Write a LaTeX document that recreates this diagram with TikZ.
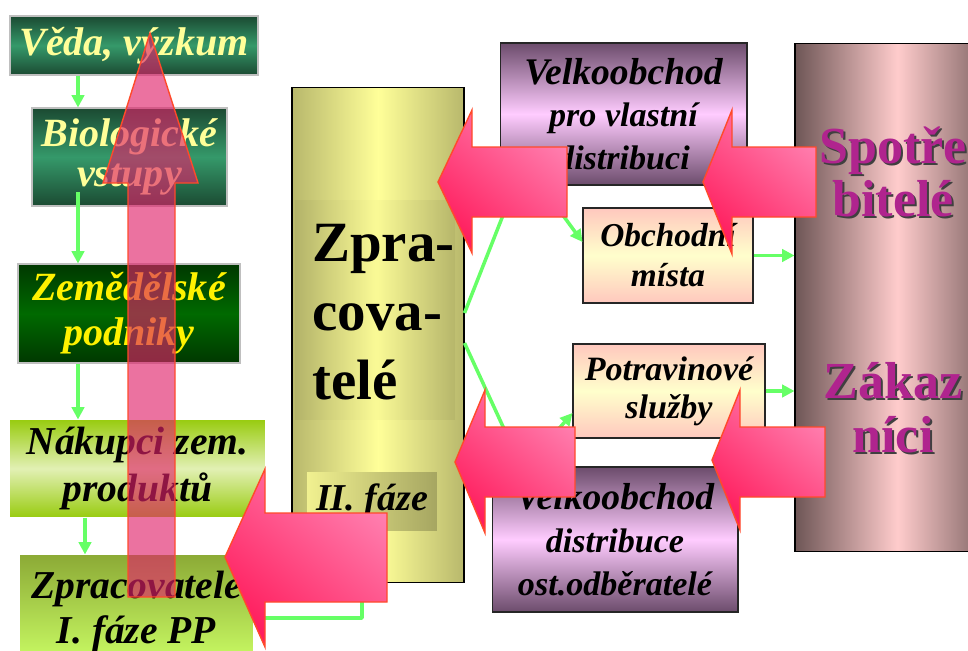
\documentclass[tikz,border=0pt]{standalone}
\usepackage{fontspec}
\setmainfont{Liberation Serif}
\usetikzlibrary{arrows.meta}

\definecolor{vedaDark}{HTML}{1B4A32}
\definecolor{vedaMid}{HTML}{35996A}
\definecolor{zemDark}{HTML}{003800}
\definecolor{zemMid}{HTML}{006A00}
\definecolor{nakEdge}{HTML}{99CC11}
\definecolor{nakMid}{HTML}{E2F0B4}
\definecolor{zprTop}{HTML}{8CAA36}
\definecolor{zprBot}{HTML}{CCFF66}
\definecolor{procEdge}{HTML}{B8B86C}
\definecolor{procMid}{HTML}{FFFF99}
\definecolor{vooEdge}{HTML}{6C4C6C}
\definecolor{vooMid}{HTML}{FFCCFF}
\definecolor{shopEdge}{HTML}{FFC8BE}
\definecolor{shopMid}{HTML}{FFFFCC}
\definecolor{consEdge}{HTML}{6E5656}
\definecolor{consMid}{HTML}{FFCCCC}
\definecolor{consText}{HTML}{B0248E}
\definecolor{paleYellow}{HTML}{FFFF99}
\definecolor{flowGreen}{HTML}{66FF66}
\definecolor{pinkDark}{HTML}{FF1E5E}
\definecolor{pinkLight}{HTML}{FF80B0}
\definecolor{pinkEdge}{HTML}{FF4A2A}
\definecolor{upPink}{HTML}{E0226A}

\begin{document}
\begin{tikzpicture}[x=0.02cm, y=-0.02cm,
  every node/.style={inner sep=0pt},
  fbi/.style 2 args={font=\bfseries\itshape\fontsize{#1}{#2}\selectfont},
  fb/.style 2 args={font=\bfseries\fontsize{#1}{#2}\selectfont},
  box/.style={draw=black!85, line width=0.6pt, align=center},
  greenbox/.style={box, draw=black!25, top color=vedaDark, bottom color=vedaDark,
    middle color=vedaMid, text=paleYellow},
  farmbox/.style={box, draw=black!25, top color=zemDark, bottom color=zemDark,
    middle color=zemMid, text=yellow},
  buyerbox/.style={box, draw=none, top color=nakEdge, bottom color=nakEdge, middle color=nakMid},
  firstbox/.style={box, draw=none, top color=zprTop, bottom color=zprBot},
  wholebox/.style={box, top color=vooEdge, bottom color=vooEdge, middle color=vooMid},
  shopbox/.style={box, top color=shopEdge, bottom color=shopEdge, middle color=shopMid},
  column/.style={draw=black, line width=0.6pt, left color=procEdge, right color=procEdge,
    middle color=procMid},
  conscolumn/.style={draw=black, line width=0.6pt, left color=consEdge, right color=consEdge,
    middle color=consMid},
  flowline/.style={draw=flowGreen, line width=2pt, line join=round},
  flow/.style={flowline, -{Triangle[length=7pt,width=7pt]}},
  bigarrow/.style={draw=pinkEdge, line width=0.8pt, line join=miter,
    top color=pinkLight, bottom color=pinkDark, shading angle=-40},
  uparrow/.style={draw=pinkEdge, line width=0.8pt, fill=upPink, fill opacity=0.64}
]
\useasboundingbox (0,0) rectangle (968,650);
\clip (0,0) rectangle (968,650);

% ---------- left chain of boxes ----------
\node[greenbox, fbi={22.8}{25}, minimum width=4.96cm, minimum height=1.18cm]
  (veda) at (134,45.5) {Věda, výzkum};
\node[greenbox, fbi={22.8}{23}, minimum width=3.9cm, minimum height=1.96cm]
  (bio) at (129.5,157) {Biologické\\vstupy};
\node[farmbox, fbi={22.8}{25.6}, minimum width=4.44cm, minimum height=1.98cm]
  (zem) at (129,313.5) {Zemědělské\\podniky};
\node[buyerbox, fbi={22.5}{26.7}, minimum width=5.1cm, minimum height=1.94cm]
  (nak) at (137.5,468.5) {Nákupci zem.\\produktů};
\node[firstbox, fbi={22.5}{25.6}, minimum width=4.66cm, minimum height=2.24cm]
  (zpr) at (136.5,611) {Zpracovatelé\\I. fáze PP};

% ---------- processors, second phase ----------
\node[column, minimum width=3.44cm, minimum height=9.92cm] (proc) at (378,335) {};
\node[draw=none, left color=procEdge!95!black, right color=procEdge!95!black,
  middle color=procMid!97!black, minimum width=3.2cm, minimum height=4.4cm,
  fill opacity=0.55] (procpanel) at (375,310) {};
\node[fb={32.4}{39.3}, align=left, anchor=west] (proctext) at (312,312) {Zpra-\\cova-\\telé};
\node[fbi={21.6}{24}, left color=procMid!80!procEdge, right color=procEdge!90!black,
  minimum width=2.6cm, minimum height=1.16cm] (phase) at (372,501) {II. fáze};

% ---------- wholesale and retail ----------
\node[wholebox, fbi={19.4}{24}, minimum width=4.94cm, minimum height=2.84cm] (vo1) at (623.5,114)
  {{\fontsize{21.4}{24}\selectfont Velkoobchod}\\pro vlastní\\distribuci};
\node[shopbox, fbi={19}{22.8}, minimum width=3.4cm, minimum height=1.9cm]
  (obch) at (668,255.5) {Obchodní\\místa};
\node[shopbox, fbi={19.4}{21.6}, minimum width=3.84cm, minimum height=1.88cm]
  (potr) at (669,391) {Potravinové\\služby};
\node[wholebox, fbi={19.4}{24.5}, minimum width=4.92cm, minimum height=2.9cm] (vo2) at (615,539.5)
  {{\fontsize{21.4}{24.5}\selectfont Velkoobchod}\\distribuce\\ost.odběratelé};

% ---------- consumers ----------
\node[conscolumn, minimum width=4.1cm, minimum height=10.18cm] (cons) at (897.5,297.5) {};
\node[fb={29.6}{30.4}, align=center, text=black!75] (spotshadow) at (895,174) {Spotře\\bitelé};
\node[fb={29.6}{30.4}, align=center, text=consText] (spot) at (893,172) {Spotře\\bitelé};
\node[fb={29.6}{30.4}, align=center, text=black!75] (zakshadow) at (895,409.5) {Zákaz\\níci};
\node[fb={29.6}{30.4}, align=center, text=consText] (zak) at (893,407.5) {Zákaz\\níci};

% ---------- green flow connectors ----------
\coordinate (lx) at (78,0);
\coordinate (lx2) at (85,0);
\coordinate (bioexit) at (78,192);
\coordinate (upbend) at (524,162);
\coordinate (lowbend) at (523,470);
\coordinate (loopc) at (362,618);

\draw[flow] (veda.south -| lx) -- (bio.north -| lx);
\draw[flow] (bioexit) -- (zem.north -| lx);
\draw[flow] (zem.south -| lx) -- (nak.north -| lx);
\draw[flow] (nak.south -| lx2) -- (zpr.north -| lx2);
\draw[flow] ([yshift=0.44cm]proc.east) -- (upbend) -- ([yshift=0.27cm]obch.west);
\draw[flow] ([yshift=-0.16cm]proc.east) -- (lowbend) -- ([yshift=-0.44cm]potr.west);
\draw[flow] (obch.east) -- (obch.east -| cons.west);
\draw[flow] (potr.east) -- (potr.east -| cons.west);
\draw[flowline] (proc.south -| loopc) -- (loopc) -- (loopc -| zpr.east);

% ---------- block arrows pointing back up the chain ----------
\draw[bigarrow] (567,147) -- (472,147) -- (472,110) -- (438,182) -- (472,253)
  -- (472,217) -- (567,217) -- cycle;
\draw[bigarrow] (816,147) -- (732,147) -- (732,110) -- (703,182) -- (732,254)
  -- (732,217) -- (816,217) -- cycle;
\draw[bigarrow] (575,427) -- (485,427) -- (485,390) -- (455,462) -- (485,533)
  -- (485,497) -- (575,497) -- cycle;
\draw[bigarrow] (825,427) -- (740,427) -- (740,390) -- (712,460) -- (740,530)
  -- (740,497) -- (825,497) -- cycle;
\draw[bigarrow] (387,513) -- (265,513) -- (265,469) -- (225,557) -- (265,647)
  -- (265,602) -- (387,602) -- cycle;

% ---------- translucent upward arrow over the left chain ----------
\draw[uparrow] (128,597) -- (128,183) -- (103,183) -- (150,33) -- (198,183)
  -- (175,183) -- (175,597) -- cycle;
\end{tikzpicture}
\end{document}
